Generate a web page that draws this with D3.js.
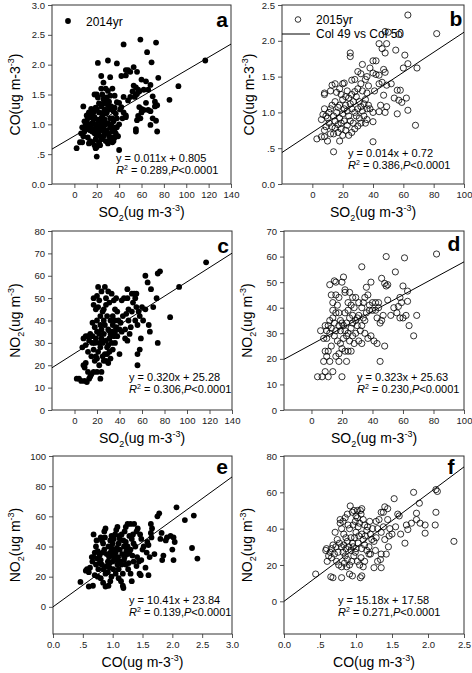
<!DOCTYPE html>
<html><head><meta charset="utf-8">
<script src="https://cdn.jsdelivr.net/npm/d3@7/dist/d3.min.js"></script>
<style>body{margin:0;background:#fff}svg{display:block}text{font-family:"Liberation Sans",Arial,sans-serif}</style>
</head><body><svg id="chart" width="472" height="673"></svg>
<script>
// ---- DATA ----
// Panel a: 2014, SO2 vs CO
const ptsA = [[59,2.42],[44,2.34],[73,2.37],[65,2.21],[21,2.03],[30,2.07],[38,2.02],[69,2.04],[117,2.07],[46,1.91],[48,1.91],[50,1.88],[53,1.96],[24,1.81],[32,1.79],[42,1.81],[46,1.82],[56,1.88],[60,1.75],[75,1.78],[64,1.72],[68,1.66],[62,1.58],[66,1.58],[53,1.65],[55,1.62],[57,1.58],[58,1.55],[56,1.51],[52,1.55],[54,1.46],[55,1.5],[93,1.64],[85,1.41],[70,1.47],[72,1.38],[64,1.36],[58,1.29],[60,1.26],[62,1.24],[66,1.24],[68,1.22],[70,1.1],[72,1.3],[74,1.32],[57,1.14],[59,1.1],[56,1.07],[60,1.2],[55,0.92],[55,0.88],[68,0.99],[73,1.06],[74,0.88],[44,1.2],[46,1.12],[46,1.15],[42,1.29],[44,1.46],[48,1.4],[50,1.46],[40,0.57],[20,0.46],[2,0.6],[36,1.48],[38,1.37],[40,1.36],[34,1.6],[30,1.56],[28,1.6],[24,1.6],[18,1.5],[20,1.5],[8,1.3],[15,1.26],[26,1.7],[32,1.48],[26,1.42],
[10,0.98],[10,0.93],[11,1.05],[12,1.1],[13,1],[14,0.9],[15,0.95],[16,1.02],[17,1.08],[18,1.12],[19,1],[20,0.95],[21,0.88],[22,0.92],[23,1.05],[24,1.1],[25,1.15],[26,1.2],[27,1.08],[28,1],[29,0.9],[30,0.85],[31,0.8],[32,0.95],[33,1],[34,1.1],[35,1.05],[36,0.92],[37,0.85],[38,0.95],[8,0.8],[9,0.88],[12,0.78],[14,0.72],[16,0.7],[18,0.65],[20,0.62],[22,0.7],[24,0.75],[26,0.8],[28,0.72],[30,0.68],[32,0.75],[34,0.7],[36,0.78],[5,0.7],[7,0.7],[13,0.68],[19,0.6],[23,0.65],[27,0.85],[29,1.2],[31,1.25],[33,1.3],[35,1.22],[37,1.18],[20,1.25],[22,1.2],[24,1.3],[26,1.35],[28,1.4],[30,1.32],[21,1.45],[25,1.5],[29,1.45],[31,1.38],[15,1.15],[17,1.2],[19,1.28],[13,1.2],[11,1.15],[9,1.05],[7,0.95],[6,0.85],[18,0.85],[20,0.8],[22,0.82],[24,0.9],[26,0.95],[28,0.88],[16,0.88],[14,1.12],[12,0.92],[25,1],[27,1.25],[32,1.1],[34,0.88],[38,1.1],[40,1],[39,0.8],[41,1.25],[43,1.1],[36,1.28],[23,0.98],[21,1.08],[19,0.75],[17,0.92],[30,1.02],[33,0.78],[35,0.72],[37,0.95],[26,1.08],[28,1.18],[22,1.35],[24,1.02]];
// Panel b: 2015, SO2 vs CO
const ptsB = [[63,2.36],[82,2.1],[48,2.13],[50,2.12],[57,2.09],[44,1.96],[49,1.96],[46,1.89],[48,1.83],[55,1.87],[61,1.8],[40,1.72],[42,1.72],[25,1.83],[25,1.78],[63,1.68],[60,1.62],[69,1.62],[33,1.67],[38,1.62],[47,1.6],[48,1.56],[30,1.57],[32,1.54],[40,1.55],[42,1.53],[44,1.52],[36,1.5],[26,1.45],[28,1.46],[35,1.46],[46,1.42],[49,1.38],[52,1.4],[44,1.4],[37,1.37],[32,1.4],[13,1.38],[15,1.4],[18,1.33],[20,1.4],[21,1.41],[8,1.27],[8,1.25],[12,1.3],[16,1.28],[28,1.29],[33,1.3],[36,1.27],[41,1.3],[56,1.31],[58,1.31],[47,1.24],[54,1.2],[62,1.2],[57,1.17],[59,1.14],[45,1.1],[49,1.08],[63,1.03],[56,0.98],[44,1.01],[48,1],[40,1],[40,0.87],[68,0.82],[40,0.59],[14,0.45],[3,0.63],[6,0.66],[8,0.66],[10,0.6],[12,0.7],[8,0.75],[9,0.8],[14,0.7],[17,0.72],[18,0.6],[20,0.68],[24,0.68],[22,0.75],[26,0.72],[28,0.77],[30,0.81],[32,0.85],[35,0.85],[36,0.9],[25,0.88],[27,0.85],[6,0.9],[7,0.97],[8,1.05],[10,0.92],[11,1],[12,1.05],[14,0.95],[15,0.88],[16,1],[17,1.07],[18,0.92],[19,0.85],[20,0.98],[21,1.05],[22,1.1],[23,1.02],[24,0.95],[25,1.12],[26,1.05],[27,1.15],[28,1],[29,0.95],[30,1.05],[31,0.92],[32,1.08],[33,1.02],[34,0.95],[35,1.18],[37,1.1],[38,1.05],[13,0.8],[15,0.78],[17,0.83],[19,0.77],[21,0.88],[23,0.82],[11,0.85],[9,0.95],[13,1.1],[15,1.15],[18,1.1],[20,1.18],[22,1.22],[24,1.2],[26,1.25],[29,1.22],[31,1.15],[19,1.25],[23,1.3],[30,1.33],[34,1.12],[36,1.05]];
// Panel c: 2014, SO2 vs NO2
const ptsC = [[117,66],[93,55],[85,41.5],[76,62],[74,61],[63,60],[65,57],[68,54],[73,50],[70,46],[74,30],[67,35],[66,38],[56,25],[56,20],[58,27],[59,32],[61,40],[63,45],[60,46],[55,52],[54,50],[53,52],[51,52],[52,48],[55,46],[57,44],[58,42],[54,40],[56,38],[50,37],[51,44],[48,45],[47,54],[44,50],[42,49],[47,50],[41,39],[43,42],[40,36],[45,32],[47,31],[40,25],[46,43],[49,34],[37,50],[35,49],[36,45],[38,44],[33,52],[30,53],[27,55],[21,55],[24,53],[20,51],[22,49],[17,50],[17,47],[19,45],[21,46],[25,44],[28,47],[31,48],[29,42],[26,40],[23,42],[20,40],[18,37],[16,39],[14,34],[12,33],[10,33],[8,32],[10,29],[13,31],[16,30],[19,32],[22,34],[24,36],[27,38],[30,36],[32,40],[34,38],[36,35],[38,33],[33,30],[31,32],[29,28],[27,25],[25,30],[23,28],[21,26],[19,24],[17,27],[15,24],[12,26],[10,21],[8,20],[9,19],[7,28],[12,17],[14,15],[17,17],[20,17],[23,14],[26,22],[28,22],[30,21],[32,23],[34,27],[36,30],[22,30],[24,32],[26,34],[28,31],[30,29],[32,34],[34,42],[36,40],[20,35],[18,30],[16,33],[26,45],[28,50],[23,38],[25,24],[2,14],[4,14],[6,13],[9,13],[11,12.5],[13,14],[15,16],[18,22],[20,23],[22,20],[24,17],[29,25],[31,26],[33,35],[35,33],[37,37],[39,40],[42,35],[45,36],[48,40]];
// Panel d: 2015, SO2 vs NO2
const ptsD = [[82,61],[49,60],[61,59.5],[33,56],[55,54],[46,51.5],[48,49.5],[49,48.5],[50,49],[60,48.5],[63,46.5],[58,44],[59,42],[63,42.5],[54,40],[56,38],[58,36],[60,36],[62,37],[69,37],[57,40.5],[64,33],[67,29],[52,37],[50,43],[47,37],[46,35],[45,34],[43,36],[44,42],[42,42],[40,42],[38,41],[37,45],[39,50],[36,48],[35,44],[34,42],[33,40],[31,42],[29,44],[27,44],[26,41],[24,42],[25,46],[22,46],[20,50],[21,52],[22,47],[18,44],[17,41],[16,50],[15,50.5],[16,45],[13,45],[12,49],[14,42],[16,38],[18,38],[14,36],[15,34],[12,35],[11,33],[9,33],[8,28],[6,31],[10,28],[13,32],[16,31],[19,31],[21,33],[23,34],[25,36],[27,37],[29,35],[31,37],[33,33],[35,30],[37,28],[39,29],[41,27],[43,26],[45,19],[48,25],[33,26],[31,27],[29,30],[27,29],[25,27],[23,29],[21,28],[19,26],[17,27],[15,29],[13,25],[11,23],[9,23],[10,21],[8,19],[12,19],[14,15],[11,13],[9,15],[7,13],[4,13],[20,13],[22,23],[24,23],[26,23],[20,24],[18,22],[18,19],[23,19],[16,21],[19,35],[22,38],[24,39],[27,34],[30,33],[32,31],[35,35],[40,39],[42,39],[44,40],[36,38],[38,39],[34,36],[28,40],[30,36],[26,32],[24,30],[22,31],[20,34],[18,33],[14,39],[12,30],[10,31],[28,26]];
// Panel e: 2014, CO vs NO2
const ptsE = [[2.07,66],[2.21,57.5],[2.36,60.5],[2.33,39],[2.42,32],[2.02,46],[1.97,47],[1.91,46],[2.04,43],[2,38],[2.02,31],[1.89,44],[1.82,49],[1.8,45],[1.85,34],[1.83,31],[1.78,62],[1.75,60],[1.64,55],[1.66,52],[1.64,49],[1.65,46],[1.58,43],[1.6,41],[1.57,36],[1.5,38],[1.48,45],[1.46,48],[1.42,52],[1.4,50],[1.36,55],[1.3,55],[1.25,55],[1.22,53],[1.2,50],[1.28,47],[1.32,45],[1.35,42],[1.38,40],[1.3,38],[1.25,35],[1.2,33],[1.41,33],[1.44,30],[1.48,31],[1.62,33],[1.7,35],[1.45,22],[1.47,21],[1.6,21],[1.3,22],[1.32,17],[1.17,14],[1.18,12.5],[1.14,17],[1.1,19],[1.05,22],[0.98,20],[0.96,17],[0.93,14],[0.88,13.5],[0.84,16],[0.8,19],[0.75,20],[0.7,21],[0.67,14],[0.6,13.5],[0.46,16.5],[0.55,24],[0.57,25],[0.6,23],[0.62,26],[0.66,30],[0.68,33],[0.68,48],[0.72,40],[0.75,37],[0.78,34],[0.8,31],[0.82,28],[0.85,25],[0.88,22],[0.9,27],[0.92,30],[0.94,33],[0.96,36],[0.98,39],[1,42],[1.02,45],[1.04,48],[1.06,51],[1.08,53],[0.86,50],[0.88,52],[0.8,46],[0.82,44],[0.84,42],[0.86,38],[0.9,35],[0.93,40],[0.96,44],[0.98,47],[1,30],[1.02,33],[1.05,36],[1.07,39],[1.1,42],[1.12,45],[1.15,48],[1.18,44],[1.12,38],[1.08,28],[1.1,25],[1.13,30],[1.16,35],[1.19,40],[1.22,43],[1.25,40],[1.28,36],[1.33,34],[1.22,28],[1.17,22],[1.06,31],[0.95,26],[0.92,23],[0.78,29],[0.74,32],[0.7,36],[0.72,28],[0.76,25],[0.65,33],[0.73,44],[1.35,30],[1.4,27],[1.26,25],[1.34,48],[1.52,40],[1.55,26],[1.15,28],[1.03,37],[1.01,25],[0.94,29],[0.99,34],[1.09,33],[1.19,31],[1.27,29],[0.83,36],[0.87,46],[1.11,47],[1.23,37]];
// Panel f: 2015, CO vs NO2
const ptsF = [[2.36,33],[2.13,60.5],[2.11,61.5],[2.11,49],[2.1,42],[1.96,42],[1.96,37.5],[1.88,54],[1.84,48.5],[1.84,45],[1.89,43],[1.8,60],[1.77,43],[1.7,42],[1.72,39.5],[1.68,32],[1.62,37],[1.6,47],[1.58,48],[1.53,56.5],[1.55,41],[1.5,37],[1.47,40],[1.44,45],[1.44,51],[1.4,52],[1.38,49],[1.35,49],[1.32,45],[1.38,41],[1.35,38],[1.3,40],[1.28,35],[1.25,33],[1.22,34],[1.2,37],[1.15,39],[1.12,42],[1.1,45],[1.07,48],[1.06,50],[1.08,51],[1.02,50],[1,47],[0.97,50],[0.95,49],[0.92,52.5],[0.88,48],[0.85,46],[0.82,44],[0.78,45],[0.78,43],[0.8,40],[0.83,37],[0.86,35],[0.88,33],[0.9,30],[0.93,28],[0.95,32],[0.98,35],[1,38],[1.03,41],[1.05,43],[1.08,37],[1.1,34],[1.12,31],[1.15,28],[1.18,26],[1.13,36],[1.03,32],[1,29],[0.97,25],[0.94,22],[0.91,20],[0.88,23],[0.85,25],[0.82,27],[0.8,30],[0.77,32],[0.74,34],[0.71,38],[0.68,31],[0.66,29],[0.64,27],[0.62,25],[0.6,22],[0.58,28],[0.59,29],[0.66,24],[0.7,26],[0.73,22],[0.76,20],[0.8,19],[0.84,21],[0.87,19],[0.91,15],[0.95,14],[0.8,13],[0.68,13],[0.65,13.5],[0.44,15],[1.06,13],[1.08,14],[1.05,20],[1.1,19],[1.07,24],[1.12,22],[1.25,18.5],[1.3,22],[1.35,18.5],[1.34,23],[1.27,28],[1.35,26],[1.42,26],[1.45,30],[1.4,34],[1.46,36],[1.18,30],[1.2,26],[1.02,22],[0.99,27],[0.96,30],[0.93,35],[0.91,40],[0.89,42],[0.96,42],[0.99,44],[1.02,46],[1.04,36],[0.86,29],[0.83,31],[1.16,41],[1.19,44],[1.23,40],[1.28,44],[1.08,29],[0.75,27],[0.72,30]];

// Tick values and labels
const ticksSO2_14 = [0,20,40,60,80,100,120,140];
const ticksSO2_15 = [0,20,40,60,80,100];
const ticksCO_A = [0,0.5,1,1.5,2,2.5,3];
const labelsCO_A = ["0.0",".5","1.0","1.5","2.0","2.5","3.0"];
const ticksCO_B = [0,0.5,1,1.5,2,2.5];
const labelsCO_B = ["0.0",".5","1.0","1.5","2.0","2.5"];
const ticksNO2_C = [0,10,20,30,40,50,60,70,80];
const ticksNO2_D = [0,10,20,30,40,50,60,70];
const ticksNO2_E = [0,20,40,60,80,100];
const ticksNO2_F = [0,20,40,60,80];

// Regression lines [slope, intercept, xStart, xEnd] and equation texts
const fitLines = {a:[0.011,0.805,-20,140], b:[0.014,0.72,-20,100], c:[0.320,25.28,-20,140], d:[0.323,25.63,-18,100], e:[28.7,0,0,3], f:[29.6,0,0,2.5]};
const eqTexts = {a:"y = 0.011x + 0.805", b:"y = 0.014x + 0.72", c:"y = 0.320x + 25.28", d:"y = 0.323x + 25.63", e:"y = 10.41x + 23.84", f:"y = 15.18x + 17.58"};
const r2Texts = {a:"0.289", b:"0.386", c:"0.306", d:"0.230", e:"0.139", f:"0.271"};
const legendLabels = ["2014yr","2015yr","Col 49 vs Col 50"];

// ---- LAYOUT ----
const svg = d3.select("#chart");
svg.append("rect").attr("width",472).attr("height",673).attr("fill","#fff");

const panels = [
 {id:"a", pts:ptsA, filled:true, box:[52,5,231,184], xd:[-20,140], yd:[0,3], xt:ticksSO2_14, yt:ticksCO_A, yl:labelsCO_A, xTitle:"SO2", yTitle:"CO", eq:[116,162], letter:[222,27], yTitleX:15},
 {id:"b", pts:ptsB, filled:false, box:[282,5,464,184], xd:[-20,100], yd:[0,2.5], xt:ticksSO2_15, yt:ticksCO_B, yl:labelsCO_B, xTitle:"SO2", yTitle:"CO", eq:[348,157], letter:[456,26], yTitleX:249},
 {id:"c", pts:ptsC, filled:true, box:[52,231,232,410], xd:[-20,140], yd:[0,80], xt:ticksSO2_14, yt:ticksNO2_C, xTitle:"SO2", yTitle:"NO2", eq:[129,381], letter:[223,253], yTitleX:15},
 {id:"d", pts:ptsD, filled:false, box:[284,231,464,410], xd:[-18,100], yd:[0,70], xt:ticksSO2_15, yt:ticksNO2_D, xTitle:"SO2", yTitle:"NO2", eq:[357,381], letter:[454,251], yTitleX:247},
 {id:"e", pts:ptsE, filled:true, box:[53,456,232,634], xd:[0,3], yd:[-18,100], xt:ticksCO_A, xl:labelsCO_A, yt:ticksNO2_E, xTitle:"CO", yTitle:"NO2", eq:[129,604], letter:[222,474], yTitleX:15},
 {id:"f", pts:ptsF, filled:false, box:[284,456,464,634], xd:[0,2.5], yd:[-18,80], xt:ticksCO_B, xl:labelsCO_B, yt:ticksNO2_F, xTitle:"CO", yTitle:"NO2", eq:[338,604], letter:[451,474], yTitleX:247}
];

const defs = svg.append("defs");

function xTitleText(sel, t){
  if (t === "SO2"){
    sel.append("tspan").text("SO");
    sel.append("tspan").attr("font-size","9px").attr("dy",4).text("2");
    sel.append("tspan").attr("dy",-4).text("(ug m-3");
  } else {
    sel.append("tspan").text("CO(ug m-3");
  }
  sel.append("tspan").attr("font-size","9px").attr("dy",-6).text("-3");
  sel.append("tspan").attr("dy",6).text(")");
}
function yTitleText(sel, t){
  if (t === "NO2"){
    sel.append("tspan").text("NO");
    sel.append("tspan").attr("font-size","9px").attr("dy",4).text("2");
    sel.append("tspan").attr("dy",-4).text("(ug m");
  } else {
    sel.append("tspan").text("CO(ug m-3");
  }
  sel.append("tspan").attr("font-size","9px").attr("dy",-6).text("-3");
  sel.append("tspan").attr("dy",6).text(")");
}

panels.forEach(p => {
  const [x0,y0,x1,y1] = p.box;
  const x = d3.scaleLinear().domain(p.xd).range([x0,x1]);
  const y = d3.scaleLinear().domain(p.yd).range([y1,y0]);
  const g = svg.append("g");

  defs.append("clipPath").attr("id","clip-"+p.id)
    .append("rect").attr("x",x0).attr("y",y0).attr("width",x1-x0).attr("height",y1-y0);

  // axes
  const xa = d3.axisBottom(x).tickValues(p.xt).tickSize(4).tickPadding(3)
     .tickFormat((d,i) => p.xl ? p.xl[i] : d3.format("d")(d));
  const ya = d3.axisLeft(y).tickValues(p.yt).tickSize(4).tickPadding(3)
     .tickFormat((d,i) => p.yl ? p.yl[i] : d3.format("d")(d));
  const gx = g.append("g").attr("transform",`translate(0,${y1})`).call(xa);
  const gy = g.append("g").attr("transform",`translate(${x0},0)`).call(ya);
  [gx,gy].forEach(a => {
    a.select(".domain").remove();
    a.selectAll(".tick line").attr("stroke","#555");
    a.selectAll(".tick text").attr("fill","#222").attr("font-size","9.5px").attr("font-family","Liberation Sans, Arial, sans-serif");
  });

  // frame
  g.append("rect").attr("x",x0).attr("y",y0).attr("width",x1-x0).attr("height",y1-y0)
    .attr("fill","none").attr("stroke","#333").attr("stroke-width",1);

  // points
  const pg = g.append("g").attr("clip-path",`url(#clip-${p.id})`);
  pg.selectAll("circle").data(p.pts).join("circle")
    .attr("cx",d=>x(d[0])).attr("cy",d=>y(d[1]))
    .attr("r", p.filled ? 2.9 : 3.1)
    .attr("fill", p.filled ? "#000" : "none")
    .attr("stroke","#000").attr("stroke-width", p.filled ? 0 : 0.8);

  // regression line
  const fl = fitLines[p.id];
  pg.append("line")
    .attr("x1",x(fl[2])).attr("y1",y(fl[0]*fl[2]+fl[1]))
    .attr("x2",x(fl[3])).attr("y2",y(fl[0]*fl[3]+fl[1]))
    .attr("stroke","#000").attr("stroke-width",1);

  // equation
  g.append("text").attr("x",p.eq[0]).attr("y",p.eq[1]).attr("font-size","11px").text(eqTexts[p.id]);
  const t2 = g.append("text").attr("x",p.eq[0]).attr("y",p.eq[1]+11.5).attr("font-size","11px");
  t2.append("tspan").attr("font-style","italic").text("R");
  t2.append("tspan").attr("font-size","7px").attr("dy",-4).text("2");
  t2.append("tspan").attr("dy",4).text(" = " + r2Texts[p.id] + ",");
  t2.append("tspan").attr("font-style","italic").text("P");
  t2.append("tspan").text("<0.0001");

  // panel letter
  g.append("text").attr("x",p.letter[0]).attr("y",p.letter[1]).attr("text-anchor","middle")
    .attr("font-size","21px").attr("font-weight","bold").text(p.id);

  // axis titles
  const xt = g.append("text").attr("x",(x0+x1)/2).attr("y",y1+33).attr("text-anchor","middle").attr("font-size","14px");
  xTitleText(xt, p.xTitle);
  const yt = g.append("text").attr("transform",`translate(${p.yTitleX+5},${(y0+y1)/2}) rotate(-90)`)
    .attr("text-anchor","middle").attr("font-size","14px");
  yTitleText(yt, p.yTitle);
});

// legends
const lg = svg.append("g").attr("font-size","12px");
lg.append("circle").attr("cx",68).attr("cy",21).attr("r",2.9).attr("fill","#000");
lg.append("text").attr("x",86).attr("y",25.5).text(legendLabels[0]);
lg.append("circle").attr("cx",298).attr("cy",19.5).attr("r",2.8).attr("fill","none").attr("stroke","#000").attr("stroke-width",0.8);
lg.append("text").attr("x",316).attr("y",24).text(legendLabels[1]);
lg.append("line").attr("x1",282).attr("x2",310).attr("y1",34).attr("y2",34).attr("stroke","#000").attr("stroke-width",1);
lg.append("text").attr("x",316).attr("y",38).text(legendLabels[2]);
</script></body></html>
